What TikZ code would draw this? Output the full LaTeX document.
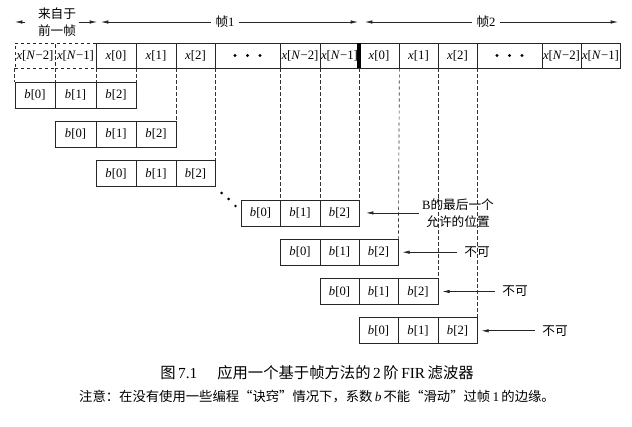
\documentclass[tikz,border=0pt]{standalone}
\usepackage{fontspec}
\setmainfont{Liberation Serif}
\newfontfamily\cjk{Noto Sans CJK SC}
\usetikzlibrary{arrows.meta}
\newcommand\cellat[7]{%
  \pgfmathsetmacro\cw{(#4-#3)*0.75}%
  \pgfmathsetmacro\cx{(#3+#4)/2}%
  \node[#1, minimum width=\cw pt, minimum height=#6] (#2) at (\cx,#5) {#7};}
\begin{document}
\begin{tikzpicture}[x=0.75pt,y=-0.75pt,
  cellbox/.style={draw=black!85, line width=0.6pt, inner sep=0pt, font=\fontsize{9.6}{12}\selectfont},
  bcell/.style={cellbox, font=\fontsize{9.5}{11}\selectfont},
  dcell/.style={cellbox, dash pattern=on 2.5pt off 2pt},
  guide/.style={draw=black!80, line width=0.5pt, dash pattern=on 2.5pt off 2pt},
  arr/.style={draw=black!85, line width=0.5pt, -{Latex[length=5.5pt,width=2.6pt]}},
  lbl/.style={font=\fontsize{9.5}{12.5}\selectfont\cjk, inner sep=2pt, align=center},
  dotmark/.style={fill=black}]
\useasboundingbox (0,0) rectangle (632,426);

% header labels and arrows
\node[lbl] (prev) at (57,22) {来自于\\前一帧};
\coordinate (pLs) at (25,22);
\coordinate (pL) at (15,22);
\coordinate (pR) at (97,22);
\draw[arr] (pLs) -- (pL);
\draw[arr] (prev.east) -- (pR);

\node[lbl, inner sep=3pt] (f1) at (225,22) {帧{\normalfont 1}};
\coordinate (f1L) at (101,22);
\coordinate (f1R) at (358,22);
\draw[arr] (f1.west) -- (f1L);
\draw[arr] (f1.east) -- (f1R);

\node[lbl, inner sep=3pt] (f2) at (486,22) {帧{\normalfont 2}};
\coordinate (f2L) at (365,22);
\coordinate (f2R) at (618,22);
\draw[arr] (f2.west) -- (f2L);
\draw[arr] (f2.east) -- (f2R);

% top row of samples
\cellat{dcell}{pa}{15}{55}{55.5}{18.75pt}{\textit{x}[\textit{N}−2]}
\cellat{dcell}{pb}{55}{96}{55.5}{18.75pt}{\textit{x}[\textit{N}−1]}
\cellat{cellbox}{a0}{96}{136}{55.5}{18.75pt}{\textit{x}[0]}
\cellat{cellbox}{a1}{136}{176}{55.5}{18.75pt}{\textit{x}[1]}
\cellat{cellbox}{a2}{176}{215}{55.5}{18.75pt}{\textit{x}[2]}
\cellat{cellbox}{ad}{215}{280}{55.5}{18.75pt}{}
\cellat{cellbox}{an2}{280}{320}{55.5}{18.75pt}{\textit{x}[\textit{N}−2]}
\cellat{cellbox}{an1}{320}{359}{55.5}{18.75pt}{\textit{x}[\textit{N}−1]}
\cellat{cellbox}{c0}{359}{399}{55.5}{18.75pt}{\textit{x}[0]}
\cellat{cellbox}{c1}{399}{438}{55.5}{18.75pt}{\textit{x}[1]}
\cellat{cellbox}{c2}{438}{477}{55.5}{18.75pt}{\textit{x}[2]}
\cellat{cellbox}{cd}{477}{542}{55.5}{18.75pt}{}
\cellat{cellbox}{cn2}{542}{581}{55.5}{18.75pt}{\textit{x}[\textit{N}−2]}
\cellat{cellbox}{cn1}{581}{620}{55.5}{18.75pt}{\textit{x}[\textit{N}−1]}
\draw[line width=3pt] (an1.north east) -- (an1.south east);

% dots in the ellipsis cells
\foreach \s in {-12.5,0,12.5} {
  \fill[dotmark] ([xshift=\s*0.75pt]ad.center) circle (1.15pt);
  \fill[dotmark] ([xshift=\s*0.75pt]cd.center) circle (1.15pt);
}

% coefficient rows
\foreach \r/\xa/\xb/\xc/\xd/\yc in {1/15/55/96/136/95, 2/55/96/136/176/134.3, 3/96/136/176/215/173.6,
  4/241/280/320/359/212.9, 5/280/320/359/398/252.2, 6/320/359/398/438/291.5, 7/359/398/438/477/330.8} {
  \cellat{bcell}{b\r0}{\xa}{\xb}{\yc}{19.5pt}{\textit{b}[0]}
  \cellat{bcell}{b\r1}{\xb}{\xc}{\yc}{19.5pt}{\textit{b}[1]}
  \cellat{bcell}{b\r2}{\xc}{\xd}{\yc}{19.5pt}{\textit{b}[2]}
}

% dashed guides
\draw[guide] (pa.south west) -- (b10.north west);
\draw[guide] (pa.south east) -- (b10.north east);
\draw[guide] (pb.south east) -- (b11.north east);
\draw[guide] (a0.south east) -- (b12.north east);
\draw[guide] (a1.south east) -- (b22.north east);
\draw[guide] (a2.south east) -- (b32.north east);
\draw[guide] (ad.south east) -- (b40.north east);
\draw[guide] (an2.south east) -- (b41.north east);
\draw[guide] (an1.south east) -- (b42.north east);
\draw[guide] (c0.south east) -- (b52.north east);
\draw[guide] (c1.south east) -- (b62.north east);
\draw[guide] (c2.south east) -- (b72.north east);

% diagonal dots
\fill[dotmark] (221.7,193) circle (1.1pt);
\fill[dotmark] (228.7,199) circle (1.1pt);
\fill[dotmark] (235.5,206) circle (1.1pt);

% annotations
\node[lbl] (last) at (458,213.5) {{\normalfont B}的最后一个\\允许的位置};
\draw[arr, shorten >=5pt] (last.west |- b42.east) -- (b42.east);
\node[lbl] (n5) at (477,252.2) {不可};
\node[lbl] (n6) at (515,291.5) {不可};
\node[lbl] (n7) at (555,330.8) {不可};
\draw[arr, shorten <=3pt, shorten >=3pt] (n5.west) -- (b52.east);
\draw[arr, shorten <=3pt, shorten >=3pt] (n6.west) -- (b62.east);
\draw[arr, shorten <=3pt, shorten >=3pt] (n7.west) -- (b72.east);

% caption
\node[font=\fontsize{11.5}{14}\selectfont, inner sep=0pt] (cap1) at (317,373)
  {{\cjk 图}\,7.1\hspace{1.3em}{\cjk 应用一个基于帧方法的}\,2\,{\cjk 阶}\,FIR\,{\cjk 滤波器}};
\node[font=\fontsize{10}{12}\selectfont, inner sep=0pt] (cap2) at (317,397)
  {{\cjk 注意：在没有使用一些编程“诀窍”情况下，系数}\,\textit{b}\,{\cjk 不能“滑动”过帧}\,1\,{\cjk 的边缘。}};
\end{tikzpicture}
\end{document}
